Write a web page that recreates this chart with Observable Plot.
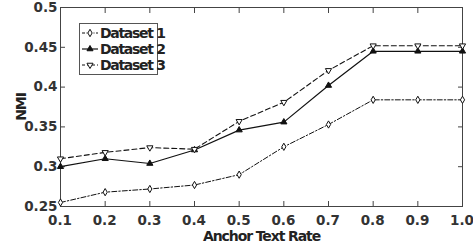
<!DOCTYPE html>
<html><head><meta charset="utf-8">
<script src="https://cdn.jsdelivr.net/npm/d3@7"></script>
<script src="https://cdn.jsdelivr.net/npm/@observablehq/plot@0.6"></script>
<style>
body{margin:0;background:#fff;}
#wrap{position:relative;width:473px;height:247px;font-family:"DejaVu Sans",sans-serif;}
#legend{position:absolute;left:79px;top:23px;width:77px;height:50px;border:1px solid #555;background:#fff;}
#legend div{position:absolute;left:20px;font-weight:bold;font-size:14px;letter-spacing:-1.3px;color:#222;line-height:14px;white-space:nowrap;}
#legend svg{position:absolute;left:0;top:0;}
</style></head>
<body><div id="wrap"></div>
<script>
const rates = [0.1,0.2,0.3,0.4,0.5,0.6,0.7,0.8,0.9,1.0];
const dataset1 = [0.255,0.268,0.272,0.277,0.290,0.325,0.353,0.384,0.384,0.384];
const dataset2 = [0.300,0.310,0.304,0.321,0.346,0.356,0.402,0.445,0.445,0.445];
const dataset3 = [0.310,0.318,0.324,0.322,0.357,0.381,0.421,0.452,0.452,0.452];
const seriesNames = ["Dataset 1","Dataset 2","Dataset 3"];
const xTicks = [0.1,0.2,0.3,0.4,0.5,0.6,0.7,0.8,0.9,1.0];
const yTicks = [0.25,0.3,0.35,0.4,0.45,0.5];

const d1 = rates.map((x,i)=>({x,y:dataset1[i]}));
const d2 = rates.map((x,i)=>({x,y:dataset2[i]}));
const d3s = rates.map((x,i)=>({x,y:dataset3[i]}));

const fmtX = d => d.toFixed(1);
const fmtY = d => String(d);
const tickStyle = {fontSize:13.5, fontWeight:"bold", fill:"#333", style:"letter-spacing:-1.4px"};

const chart = Plot.plot({
  width:473, height:247,
  marginLeft:60, marginRight:11, marginTop:7, marginBottom:41,
  style:{fontFamily:"DejaVu Sans, sans-serif", background:"#fff", overflow:"visible"},
  x:{domain:[0.1,1.0]},
  y:{domain:[0.25,0.5]},
  marks:[
    Plot.frame({stroke:"#444"}),
    Plot.axisX(xTicks,{anchor:"bottom", tickSize:5, dy:-5, text:null, stroke:"#444", label:null}),
    Plot.axisX(xTicks,{anchor:"top", tickSize:5, dy:5, text:null, stroke:"#444", label:null}),
    Plot.axisY(yTicks,{anchor:"left", tickSize:5, dx:5, text:null, stroke:"#444", label:null}),
    Plot.axisY(yTicks,{anchor:"right", tickSize:5, dx:-5, text:null, stroke:"#444", label:null}),
    Plot.axisX(xTicks,{anchor:"bottom", tickSize:0, tickPadding:9, tickFormat:fmtX, ...tickStyle, dx:-0.5,
      label:"Anchor Text Rate", labelAnchor:"center", labelArrow:"none", labelOffset:34}),
    Plot.axisY(yTicks,{anchor:"left", tickSize:0, tickPadding:3, tickFormat:fmtY, ...tickStyle,
      label:"NMI", labelAnchor:"center", labelArrow:"none", labelOffset:44}),
    Plot.line(d1,{x:"x",y:"y",stroke:"#111",strokeWidth:1,strokeDasharray:"5,2,1.5,2"}),
    Plot.line(d2,{x:"x",y:"y",stroke:"#111",strokeWidth:1.2}),
    Plot.line(d3s,{x:"x",y:"y",stroke:"#111",strokeWidth:1.1,strokeDasharray:"5,3"}),
    Plot.dot(d1,{x:"x",y:"y",symbol:"diamond",r:2.2,stroke:"#111",fill:"#fff",strokeWidth:1}),
    Plot.dot(d2,{x:"x",y:"y",symbol:"triangle",r:2.3,stroke:"#111",fill:"#111",strokeWidth:1}),
    Plot.dot(d3s,{x:"x",y:"y",symbol:"triangle",rotate:180,r:2.3,stroke:"#111",fill:"#fff",strokeWidth:1})
  ]
});
const wrap = document.getElementById("wrap");
wrap.appendChild(chart);
chart.querySelectorAll("[aria-label='x-axis label'] text, [aria-label='y-axis label'] text").forEach(t=>{
  t.setAttribute("font-size","14"); t.setAttribute("font-weight","bold"); t.setAttribute("fill","#222");
  t.style.letterSpacing="-1.1px";
});

const leg = document.createElement("div");
leg.id="legend";
const ns="http://www.w3.org/2000/svg";
const svg = document.createElementNS(ns,"svg");
svg.setAttribute("width","20"); svg.setAttribute("height","50");
const rowsY=[9,25,41];
const dashes=["3,1.5,1,1.5",null,"3,2"];
rowsY.forEach((yy,i)=>{
  const l=document.createElementNS(ns,"line");
  l.setAttribute("x1",2);l.setAttribute("x2",18);l.setAttribute("y1",yy);l.setAttribute("y2",yy);
  l.setAttribute("stroke","#111");l.setAttribute("stroke-width",i==1?1.2:1);
  if(dashes[i]) l.setAttribute("stroke-dasharray",dashes[i]);
  svg.appendChild(l);
  const p=document.createElementNS(ns,"path");
  const sym=[d3.symbolDiamond,d3.symbolTriangle,d3.symbolTriangle][i];
  p.setAttribute("d",d3.symbol(sym, 16)());
  p.setAttribute("transform",`translate(10,${yy})`+(i==2?" rotate(180)":""));
  p.setAttribute("stroke","#111");p.setAttribute("fill",i==1?"#111":"#fff");
  svg.appendChild(p);
  const t=document.createElement("div");
  t.textContent=seriesNames[i];
  t.style.top=(yy-7)+"px";
  leg.appendChild(t);
});
leg.appendChild(svg);
wrap.appendChild(leg);
</script></body></html>
